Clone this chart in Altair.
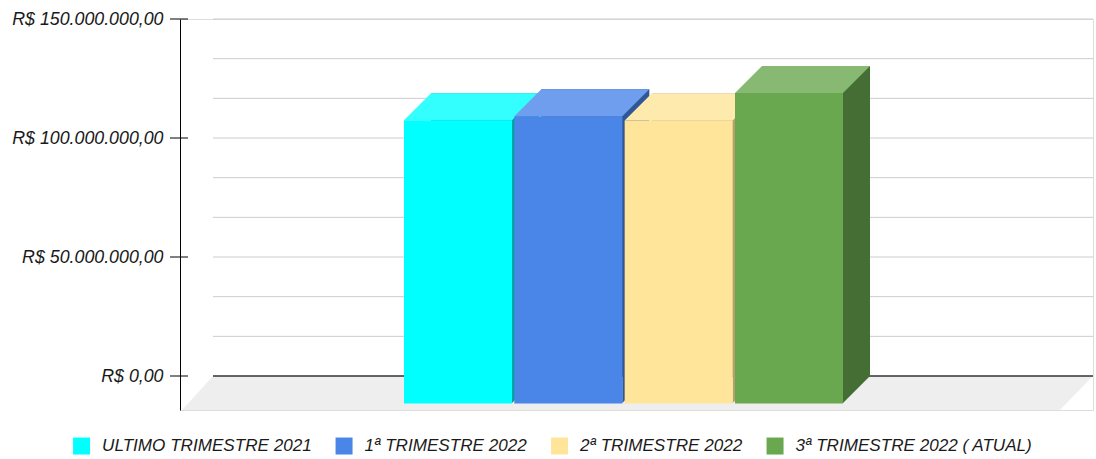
import altair as alt
import pandas as pd

# ---- data ----
categories = [
    "ULTIMO TRIMESTRE 2021",
    "1ª TRIMESTRE 2022",
    "2ª TRIMESTRE 2022",
    "3ª TRIMESTRE 2022 ( ATUAL)",
]
values = [118_800_000, 120_500_000, 118_700_000, 130_200_000]
front_colors = ["#00FFFF", "#4A86E8", "#FFE599", "#6AA84F"]
top_colors = ["#33FFFF", "#6E9EED", "#FFEAAD", "#88B972"]
side_colors = ["#00A3A3", "#2F5797", "#B3A06B", "#456E34"]
axis_ticks = [0, 50_000_000, 100_000_000, 150_000_000]
grid_values = [16_666_667, 33_333_333, 50_000_000, 66_666_667, 83_333_333,
               100_000_000, 116_666_667, 133_333_333, 150_000_000]

df = pd.DataFrame({"cat": categories, "value": values})

FONT = "Liberation Sans"
DEPTH = 27

x_scale = alt.Scale(type="band", domain=categories, range=[224, 663],
                    paddingInner=0.02115, paddingOuter=0)
y_scale = alt.Scale(domain=[-14_285_714, 150_000_000], nice=False, zero=False)
y_axis = alt.Axis(values=axis_ticks, format="$,.2f", title=None, grid=False,
                  ticks=False, domain=True, domainColor="#000000", domainWidth=1,
                  labelFont=FONT, labelFontSize=17.8, labelFontStyle="italic",
                  labelColor="#1a1a1a", labelPadding=17)


def X():
    return alt.X("cat:N", scale=x_scale, axis=None)


def Y(field="value"):
    return alt.Y(f"{field}:Q", scale=y_scale, axis=y_axis)


# gridlines on the back wall
grid = alt.Chart(pd.DataFrame({"g": grid_values})).mark_rule(
    color="#CCCCCC", strokeWidth=1
).encode(y=Y("g"), x=alt.value(33), x2=alt.value(913))

# floor
floor = alt.Chart(pd.DataFrame({"f": [0]})).mark_point(
    shape="M-24.97,-1L26.79,-1L24.85,1L-26.79,1Z", size=1156, filled=True,
    opacity=1, color="#EEEEEE", strokeWidth=0
).encode(x=alt.value(457.5), y=alt.value(374))

# baseline at zero
baseline = alt.Chart(pd.DataFrame({"b": [0]})).mark_rule(
    color="#333333", strokeWidth=1.5
).encode(y=Y("b"), x=alt.value(33), x2=alt.value(913))

# axis ticks crossing the axis line
ticks = alt.Chart(pd.DataFrame({"t": axis_ticks})).mark_rule(
    color="#000000", strokeWidth=1
).encode(y=Y("t"), x=alt.value(-10), x2=alt.value(8))

color_enc = alt.Color(
    "cat:N",
    scale=alt.Scale(domain=categories, range=front_colors),
    legend=alt.Legend(
        title=None, orient="none", legendX=-107, legendY=418,
        direction="horizontal", columns=4, symbolType="square",
        symbolSize=289, symbolStrokeWidth=0, symbolOpacity=1,
        labelFont=FONT, labelFontSize=17.1, labelFontStyle="italic",
        labelColor="#1a1a1a", labelOffset=12, columnPadding=23.5,
        padding=0, labelLimit=0,
    ),
)

base = alt.Chart(df)
bar_layers = []
for i, c in enumerate(categories):
    b = base.transform_filter(alt.datum.cat == c)
    side = b.mark_bar(xOffset=DEPTH, x2Offset=DEPTH, color=side_colors[i],
                      strokeWidth=0).encode(
        x=X(), y=Y(), y2=alt.datum(0)
    )
    tri = b.mark_point(
        shape="M-1,-1L-1,1L1,-1Z", size=729, filled=True, opacity=1,
        color=side_colors[i], strokeWidth=0, xOffset=67.5, yOffset=13.5
    ).encode(x=X(), y=alt.Y(datum=0, scale=y_scale, axis=y_axis))
    front = b.mark_bar(yOffset=DEPTH, y2Offset=DEPTH + 0.5, strokeWidth=0,
                       opacity=1).encode(
        x=X(), y=Y(), y2=alt.datum(0), color=color_enc
    )
    top = b.mark_point(
        shape="M-5,1L3,1L5,-1L-3,-1Z", size=729, filled=True, opacity=1,
        color=top_colors[i], strokeWidth=0, xOffset=13.5, yOffset=13.5
    ).encode(x=X(), y=Y())
    bar_layers += [side, tri, front, top]

chart = alt.layer(grid, floor, baseline, ticks, *bar_layers).properties(
    width=913, height=391,
    padding={"left": 180, "top": 19, "right": 3, "bottom": 49},
    autosize="none",
).configure_view(stroke=None).configure(
    locale={"number": {"decimal": ",", "thousands": ".", "grouping": [3],
                       "currency": ["R$ ", ""]}}
)

chart.save("out.html", embed_options={"renderer": "svg", "actions": False})
